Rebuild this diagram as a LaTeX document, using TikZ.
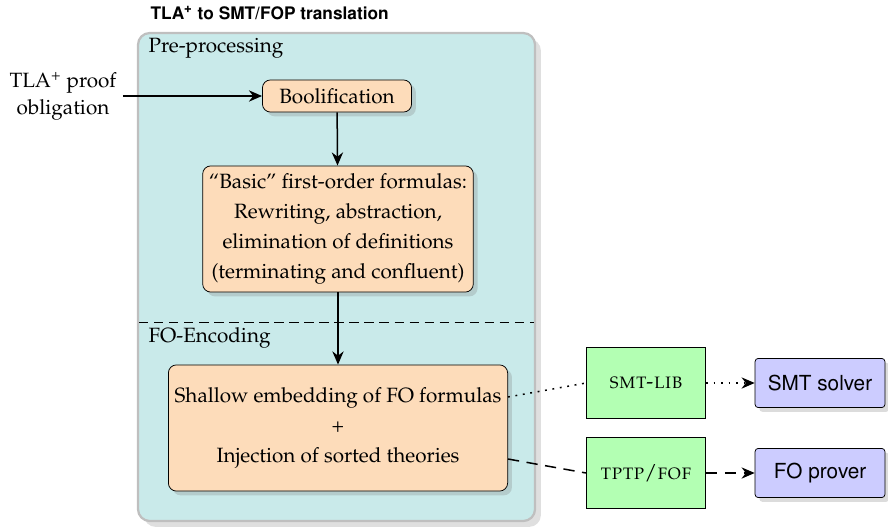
\documentclass[tikz,border=0pt]{standalone}
\usepackage[T1]{fontenc}
\usepackage{mathpazo}
\usepackage[scaled=0.92]{helvet}
\usetikzlibrary{arrows.meta,shadows,positioning}

\definecolor{stagebg}{HTML}{C9EAEA}
\definecolor{peach}{HTML}{FDDCBA}
\definecolor{mint}{HTML}{B3FFB3}
\definecolor{lavender}{HTML}{CCCCFF}

\tikzset{
  castshadow/.style={drop shadow={opacity=0.28, shadow xshift=0.08cm, shadow yshift=-0.08cm}},
  stagebox/.style={draw=black!25, line width=1.2pt, fill=stagebg, rounded corners=0.22cm,
    drop shadow={opacity=0.25, shadow xshift=0.11cm, shadow yshift=-0.11cm}},
  procbox/.style={draw, thin, fill=peach, rounded corners=0.15cm, castshadow, align=center,
    font=\fontsize{11}{16}\selectfont},
  formatbox/.style={draw, thin, fill=mint, minimum width=2.23cm, minimum height=1.33cm},
  toolbox/.style={draw, thin, fill=lavender, rounded corners=0.06cm, castshadow,
    minimum width=2.43cm, minimum height=0.92cm, font=\sffamily\large},
  flow/.style={thick, -{Stealth[length=7pt,width=6pt]}}
}

\begin{document}
\begin{tikzpicture}[x=0.0187cm, y=-0.0187cm, font=\fontsize{11}{14}\selectfont]
    \useasboundingbox (0,0) rectangle (888,528);
    % stage frame
    \draw[stagebox] (138,33) rectangle (535,521);
    \draw[dashed, dash pattern=on 5pt off 3pt] (139,322) -- (534,322);
    \node[anchor=west, font=\sffamily\bfseries] (title) at (144,13) {TLA\textsuperscript{+} to SMT/FOP translation};
    \node[anchor=west] (pre) at (142,48) {Pre-processing};
    \node[anchor=west] (enc) at (142,338) {FO-Encoding};

    % nodes
    \node[align=center] (po) at (63,96) {TLA\textsuperscript{+} proof\\obligation};
    \node[procbox, minimum width=2.79cm, minimum height=0.6cm] (bool) at (337,96) {Boolification};
    \node[procbox, minimum width=5.03cm, minimum height=2.36cm] (basic) at (338,229)
        {``Basic'' first-order formulas:\\Rewriting, abstraction,\\elimination of definitions\\(terminating and confluent)};
    \node[procbox, minimum width=6.3cm, minimum height=2.36cm] (shallow) at (338,428)
        {Shallow embedding of FO formulas\\+\\Injection of sorted theories};
    \node[formatbox] (smtlib) at (646,383) {\textsc{smt-lib}};
    \node[formatbox] (tptp) at (646,473) {\textsc{tptp}/\textsc{fof}};
    \node[toolbox] (smt) at (820,383) {SMT solver};
    \node[toolbox] (fo) at (820,473) {FO prover};

    % connectors
    \draw[flow] (po) -- (bool);
    \draw[flow] (bool) -- (basic);
    \draw[flow] (basic) -- (shallow);
    \draw[thick, dash pattern=on 1pt off 3pt] ([yshift=0.58cm]shallow.east) -- (smtlib.west);
    \draw[thick, dash pattern=on 6pt off 4pt] ([yshift=-0.58cm]shallow.east) -- (tptp.west);
    \draw[flow, dash pattern=on 1pt off 3pt] (smtlib) -- (smt);
    \draw[flow, dash pattern=on 6pt off 4pt] (tptp) -- (fo);
\end{tikzpicture}
\end{document}
